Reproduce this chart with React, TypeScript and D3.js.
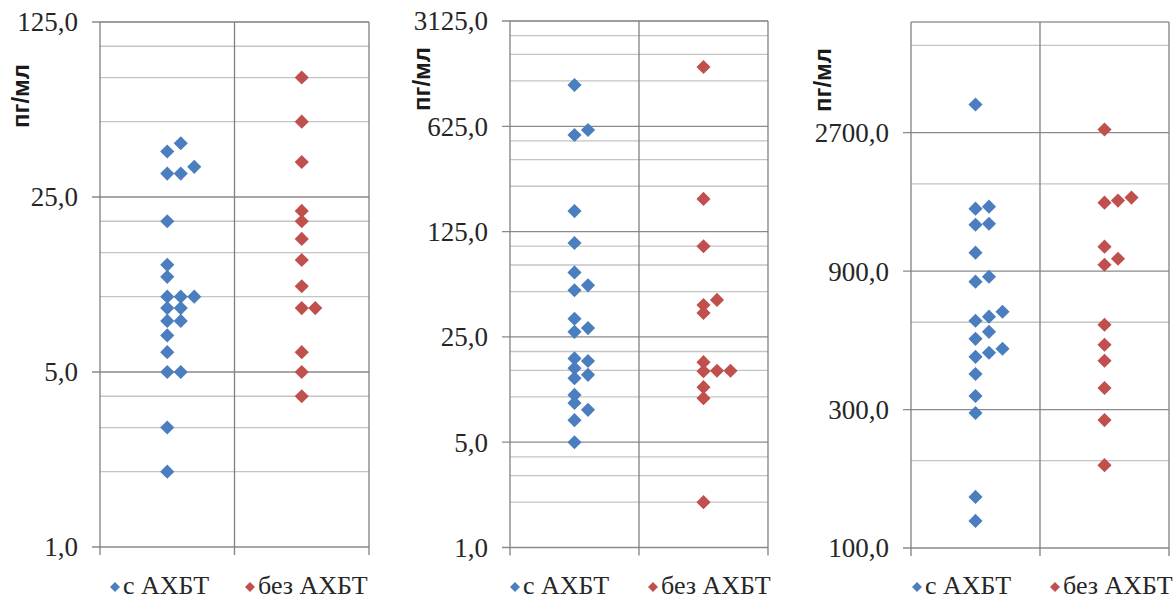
import React, { useEffect, useRef } from 'react';
import * as d3 from 'd3';

const categories = ["с АХБТ", "без АХБТ"];
const unitLabel = "пг/мл";

// each point: [value, sideways column index]
const p1With = [[38, 0], [41, 1], [31, 0], [31, 1], [33, 2], [20, 0], [13.4, 0], [12, 0], [10, 0], [10, 1], [10, 2],
    [9, 0], [9, 1], [8, 0], [8, 1], [7, 0], [6, 0], [5, 0], [5, 1], [3, 0], [2, 0]];
const p1Without = [[75, 0], [50, 0], [34.5, 0], [22, 0], [20, 0], [17, 0], [14, 0], [11, 0], [9, 0], [9, 1], [6, 0], [5, 0], [4, 0]];

const p2With = [[1175, 0], [547, 0], [591, 1], [171, 0], [105, 0], [67, 0], [51, 0], [55, 1], [33, 0], [27, 0], [28.6, 1],
    [18, 0], [17.3, 1], [15.5, 0], [13.3, 0], [14, 1], [10.3, 0], [9.1, 0], [8.2, 1], [7, 0], [5, 0]];
const p2Without = [[1547, 0], [206, 0], [100, 0], [40.7, 0], [44, 1], [36, 0], [17, 0], [14.8, 0], [14.9, 1], [14.9, 2],
    [11.6, 0], [9.8, 0], [2, 0]];

const p3With = [[3376, 0], [1478, 0], [1501, 1], [1301, 0], [1311, 1], [1042, 0], [828, 0], [861, 1], [607, 0], [627, 1], [652, 2],
    [526, 0], [556, 1], [456, 0], [471, 1], [486, 2], [398, 0], [334, 0], [292, 0], [150, 0], [124, 0]];
const p3Without = [[2769, 0], [1550, 0], [1575, 1], [1613, 2], [1093, 0], [947, 0], [993, 1], [588, 0], [502, 0], [442, 0],
    [356, 0], [276, 0], [193, 0]];

const p1Ticks = [1, 5, 25, 125];
const p2Ticks = [1, 5, 25, 125, 625, 3125];
const p3Ticks = [100, 300, 900, 2700];

const colors = ["#4a7ebf", "#c0504d"];
const serif = "'Liberation Serif', 'DejaVu Serif', 'Noto Serif', Tinos, 'Times New Roman', Times, serif";

const panels = [
    { series: [p1With, p1Without], ticks: p1Ticks, domain: [1, 125], base: 5, minor: [2, 3, 4],
      left: 100, right: 369, top: 22, bottom: 547, titleX: 21, titleY: 96, legendX: 115, legendGap: 135 },
    { series: [p2With, p2Without], ticks: p2Ticks, domain: [1, 3125], base: 5, minor: [2, 3, 4],
      left: 510, right: 768, top: 21, bottom: 547.5, titleX: 422, titleY: 79, legendX: 515, legendGap: 138 },
    { series: [p3With, p3Without], ticks: p3Ticks, domain: [100, 6500], base: 3, minor: [2],
      left: 911, right: 1169, top: 22, bottom: 548, titleX: 823, titleY: 80, legendX: 917, legendGap: 138 },
];

const fmt = d3.formatLocale({ decimal: ",", thousands: " ", grouping: [3], currency: ["", ""] }).format(".1f");

const drawPanel = (svg, p) => {
    let y = d3.scaleLog().base(p.base).domain(p.domain).range([p.bottom, p.top]);
    let x = d3.scaleBand().domain(categories).range([p.left, p.right]);
    let g = svg.append("g");

    // minor gridlines
    let minorVals = [];
    p.ticks.forEach((m) => p.minor.forEach((k) => { if (m * k < p.domain[1]) minorVals.push(m * k); }));
    g.selectAll(".minor").data(minorVals).enter().append("line")
        .attr("x1", p.left).attr("x2", p.right)
        .attr("y1", (d) => y(d)).attr("y2", (d) => y(d))
        .style("stroke", "#c4c4c4").style("stroke-width", 1.3);

    // major gridlines + ticks
    g.selectAll(".major").data(p.ticks).enter().append("line")
        .attr("x1", p.left - 8).attr("x2", p.right)
        .attr("y1", (d) => y(d)).attr("y2", (d) => y(d))
        .style("stroke", "#8a8a8a").style("stroke-width", 1.3);

    // top border
    g.append("line").attr("x1", p.left).attr("x2", p.right).attr("y1", p.top).attr("y2", p.top)
        .style("stroke", "#9a9a9a").style("stroke-width", 1.3);

    // vertical lines
    g.selectAll(".vline").data([p.left, x(categories[1]), p.right]).enter().append("line")
        .attr("x1", (d) => d).attr("x2", (d) => d)
        .attr("y1", p.top).attr("y2", p.bottom + 8)
        .style("stroke", "#808080").style("stroke-width", 1.3);

    // tick labels
    g.selectAll(".tlabel").data(p.ticks).enter().append("text")
        .attr("x", p.left - 22).attr("y", (d) => y(d)).attr("dy", "0.35em")
        .style("font-family", serif).style("font-size", "27px").style("fill", "#262626")
        .style("text-anchor", "end")
        .text((d) => fmt(d));

    // axis title
    g.append("text")
        .attr("transform", `translate(${p.titleX},${p.titleY}) rotate(-90)`)
        .attr("dy", "0.35em")
        .style("font-family", "'Liberation Sans', Arial, sans-serif")
        .style("font-weight", "bold").style("font-size", "24px").style("fill", "#1a1a1a")
        .style("text-anchor", "middle")
        .text(unitLabel);

    // points
    let diamond = d3.symbol().type(d3.symbolSquare).size(100)();
    p.series.forEach((pts, i) => {
        let cx = x(categories[i]) + x.bandwidth() / 2;
        g.selectAll(".pt" + i).data(pts).enter().append("path")
            .attr("d", diamond)
            .attr("transform", (d) => `translate(${cx + d[1] * 13.5},${y(d[0])}) rotate(45)`)
            .style("fill", colors[i]);
    });

    // legend
    let small = d3.symbol().type(d3.symbolSquare).size(50)();
    categories.forEach((c, i) => {
        let lx = p.legendX + i * p.legendGap;
        g.append("path").attr("d", small).attr("transform", `translate(${lx},587) rotate(45)`).style("fill", colors[i]);
        g.append("text").attr("x", lx + 8).attr("y", 594)
            .style("font-family", serif).style("font-size", "26px").style("fill", "#262626")
            .text(c);
    });
};

const App = () => {
    const ref = useRef(null);

    useEffect(() => {
        let svg = d3.select(ref.current);
        svg.selectAll("*").remove();
        panels.forEach((p) => drawPanel(svg, p));
    }, []);

    return (
        <div style={{ position: "absolute", left: 0, top: 0, background: "#fff" }}>
            <svg ref={ref} width={1174} height={601} />
        </div>
    );
};

export default App;
